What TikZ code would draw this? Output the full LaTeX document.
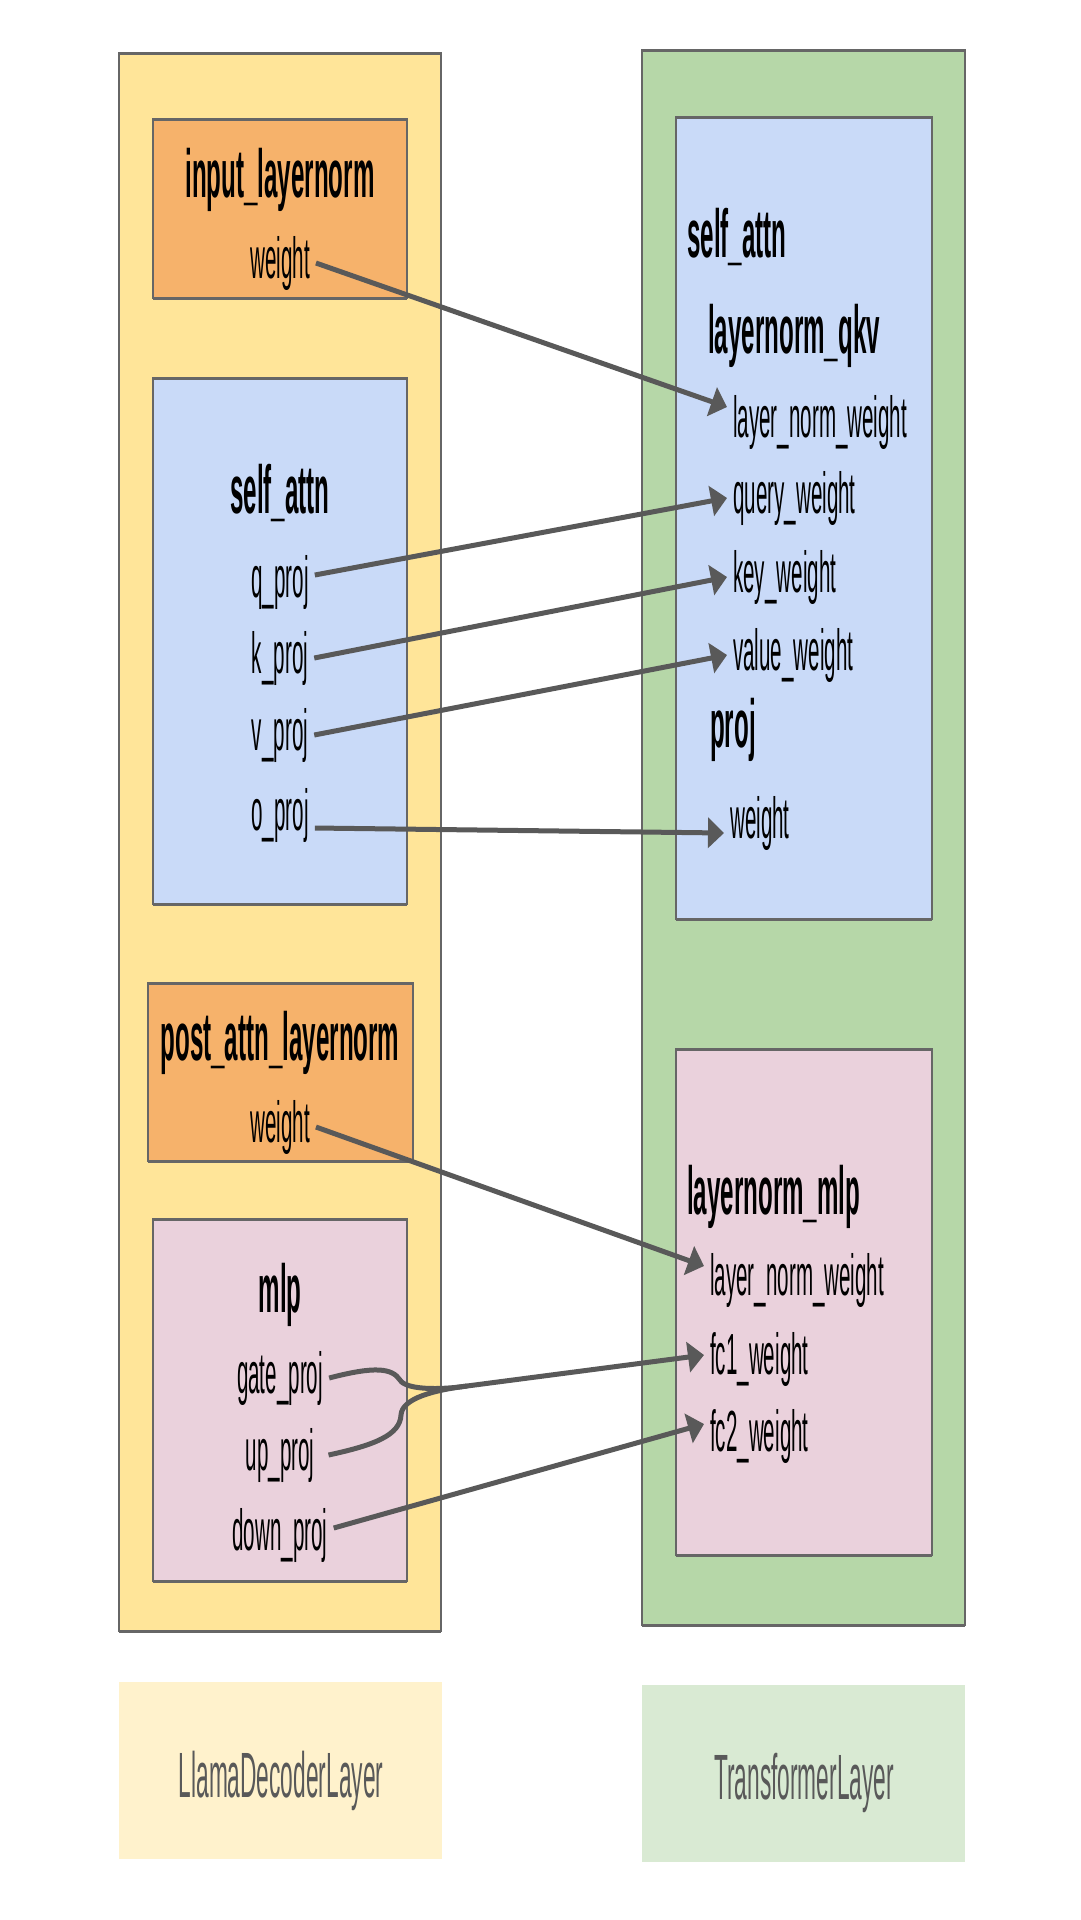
\documentclass[tikz,border=0pt]{standalone}
\usepackage{fontspec}
\setmainfont{Liberation Sans}[FakeStretch=0.355]
\usetikzlibrary{arrows.meta}
\definecolor{yellowbg}{HTML}{FFE599}
\definecolor{greenbg}{HTML}{B6D7A8}
\definecolor{orangebg}{HTML}{F6B26B}
\definecolor{bluebg}{HTML}{C9DAF8}
\definecolor{pinkbg}{HTML}{EAD1DC}
\definecolor{keyyellow}{HTML}{FFF2CC}
\definecolor{keygreen}{HTML}{D9EAD3}
\definecolor{keytext}{HTML}{595959}
\definecolor{boxline}{HTML}{666666}
\definecolor{arrowgray}{HTML}{595959}

\begin{document}
\begin{tikzpicture}[x=1pt,y=-1pt,
    box/.style={draw=boxline,line width=1.2pt},
    edge/.style={boxline,line width=3pt},
    lbl/.style={font=\fontsize{58}{60}\selectfont,inner xsep=6pt,inner ysep=0pt},
    hdr/.style={font=\bfseries\fontsize{68}{70}\selectfont,inner xsep=6pt,inner ysep=0pt},
    key/.style={font=\fontsize{64}{66}\selectfont,text=keytext},
    arr/.style={-{Triangle[length=16pt,width=30pt]},arrowgray,line width=5pt},
    link/.style={arrowgray,line width=5pt}]
    \useasboundingbox (0,0) rectangle (1080,1920);
    % containers
    \foreach \xa/\ya/\xb/\yb/\c in {119/53/441/1631/yellowbg, 642/50/965/1625/greenbg,
        153/119/407/298/orangebg, 153/378/407/904/bluebg, 148/983/413/1161/orangebg,
        153/1219/407/1581/pinkbg, 676/117/932/919/bluebg, 676/1049/932/1555/pinkbg}
    {
        \draw[box,fill=\c] (\xa,\ya) rectangle (\xb,\yb);
        \draw[edge] (\xa,\ya) -- (\xb,\ya) (\xa,\yb) -- (\xb,\yb);
    }
    \fill[keyyellow] (119,1682) rectangle (442,1859);
    \fill[keygreen] (642,1685) rectangle (965,1862);

    % LlamaDecoderLayer
    \node (iln) at (280,197) [hdr,anchor=base] {input\_layernorm};
    \node (iw) at (280,278) [lbl,anchor=base] {weight};
    \node (lsa) at (280,513) [hdr,anchor=base] {self\_attn};
    \node (qp) at (280,597) [lbl,anchor=base] {q\_proj};
    \node (kp) at (280,673) [lbl,anchor=base] {k\_proj};
    \node (vp) at (280,750) [lbl,anchor=base] {v\_proj};
    \node (op) at (280,830) [lbl,anchor=base] {o\_proj};
    \node (pln) at (280,1060) [hdr,anchor=base] {post\_attn\_layernorm};
    \node (pw) at (280,1142) [lbl,anchor=base] {weight};
    \node (lmlp) at (280,1312) [hdr,anchor=base] {mlp};
    \node (gp) at (280,1393) [lbl,anchor=base] {gate\_proj};
    \node (up) at (280,1470) [lbl,anchor=base] {up\_proj};
    \node (dp) at (280,1550) [lbl,anchor=base] {down\_proj};

    % TransformerLayer
    \node (rsa) at (681,257) [hdr,anchor=base west] {self\_attn};
    \node (lnqkv) at (702,353) [hdr,anchor=base west] {layernorm\_qkv};
    \node (rln) at (727,437) [lbl,anchor=base west] {layer\_norm\_weight};
    \node (qw) at (727,513) [lbl,anchor=base west] {query\_weight};
    \node (kw) at (727,592) [lbl,anchor=base west] {key\_weight};
    \node (vw) at (727,670) [lbl,anchor=base west] {value\_weight};
    \node (rproj) at (704,747) [hdr,anchor=base west] {proj};
    \node (rpw) at (724,838) [lbl,anchor=base west] {weight};
    \node (lnmlp) at (681,1214) [hdr,anchor=base west] {layernorm\_mlp};
    \node (mln) at (704,1295) [lbl,anchor=base west] {layer\_norm\_weight};
    \node (fc1) at (704,1374) [lbl,anchor=base west] {fc1\_weight};
    \node (fc2) at (704,1451) [lbl,anchor=base west] {fc2\_weight};

    % legend
    \node (llama) at (281,1797) [key,anchor=base] {LlamaDecoderLayer};
    \node (trans) at (804,1799) [key,anchor=base] {TransformerLayer};

    % weight mapping
    \coordinate (mrg) at (467,1386);
    \draw[arr] (iw.east) -- ([yshift=15pt]rln.west);
    \draw[arr] ([yshift=7pt]qp.east) -- (qw.west);
    \draw[arr] (kp.east) -- (kw.west);
    \draw[arr] (vp.east) -- (vw.west);
    \draw[arr] ([yshift=-13pt]op.east) -- ([yshift=-10pt]rpw.west);
    \draw[arr] (pw.east) -- ([yshift=14pt]mln.west);
    \draw[arr] (gp.east) .. controls (375,1366) and (392,1368) .. (400,1380)
        .. controls (406,1390) and (440,1390) .. (mrg) -- ([yshift=4pt]fc1.west);
    \draw[link] ([xshift=8pt]up.east) .. controls (375,1445) and (400,1435) .. (401,1415)
        .. controls (402,1398) and (435,1390) .. (mrg);
    \draw[arr] ([yshift=7pt]dp.east) -- ([yshift=12pt]fc2.west);
\end{tikzpicture}
\end{document}
